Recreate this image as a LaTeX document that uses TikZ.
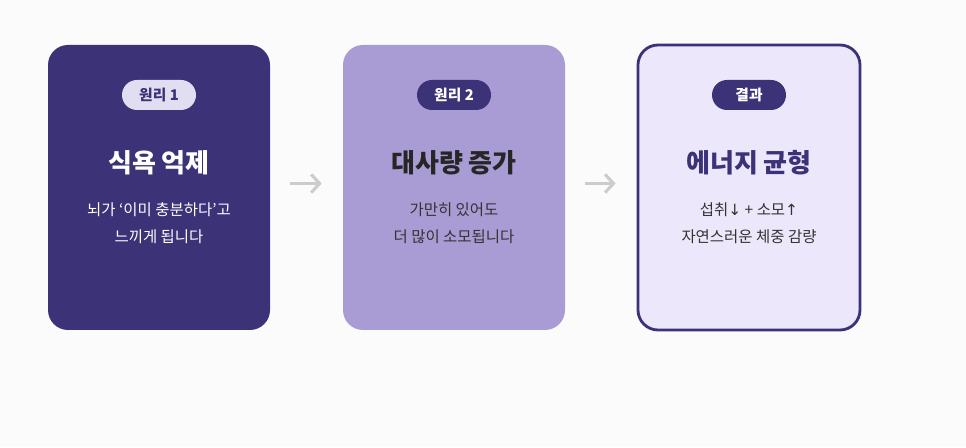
\documentclass[tikz,border=0pt]{standalone}
\usepackage{fontspec}
\setmainfont{Noto Sans CJK KR}
\usetikzlibrary{arrows.meta,positioning}
\definecolor{deep}{HTML}{3B3278}
\definecolor{mid}{HTML}{A99BD4}
\definecolor{pale}{HTML}{ECE7FA}
\definecolor{pillpale}{HTML}{E2DEF2}
\begin{document}
\begin{tikzpicture}[x=0.025cm,y=0.025cm,
  card/.style={rounded corners=20*0.025cm,minimum width=222*0.025cm,minimum height=285*0.025cm,inner sep=0pt},
  pill/.style={rounded corners=15*0.025cm,minimum width=74*0.025cm,minimum height=30*0.025cm,inner sep=0pt,font=\fontsize{10.5}{12}\selectfont\bfseries},
  title/.style={font=\fontsize{18.5}{20}\selectfont\bfseries},
  body/.style={font=\fontsize{11}{19}\selectfont,align=center},
  flow/.style={draw=gray!40,line width=2.2pt,shorten <=20*0.025cm,shorten >=21*0.025cm,-{Straight Barb[length=6pt,width=13pt]}}]
\fill[white!97!gray] (0,0) rectangle (966,447);
\useasboundingbox (0,0) rectangle (966,447);
% cards
\node[card,fill=deep] (c1) at (159,259.5) {};
\node[card,fill=mid] (c2) at (454,259.5) {};
\node[card,fill=pale,draw=deep,line width=2pt] (c3) at (749,259.5) {};
% badges
\node[pill,fill=pillpale,text=deep] (p1) at (159,352) {원리 1};
\node[pill,fill=deep,text=white] (p2) at (454,352) {원리 2};
\node[pill,fill=deep,text=white] (p3) at (749,352) {결과};
% titles
\node[title,text=white] (t1) at (159,284) {식욕 억제};
\node[title,text=black!85] (t2) at (454,284) {대사량 증가};
\node[title,text=deep] (t3) at (749,284) {에너지 균형};
% texts
\node[body,text=white] (d1) at (159,224) {뇌가 ‘이미 충분하다’고\\느끼게 됩니다};
\node[body,text=black!80] (d2) at (454,224) {가만히 있어도\\더 많이 소모됩니다};
\node[body,text=black!80] (d3) at (749,224) {섭취{\fontspec{DejaVu Sans}↓} + 소모{\fontspec{DejaVu Sans}↑}\\자연스러운 체중 감량};
% arrows
\draw[flow] ([yshift=4*0.025cm]c1.east) -- ([yshift=4*0.025cm]c2.west);
\draw[flow] ([yshift=4*0.025cm]c2.east) -- ([yshift=4*0.025cm]c3.west);
\end{tikzpicture}
\end{document}
